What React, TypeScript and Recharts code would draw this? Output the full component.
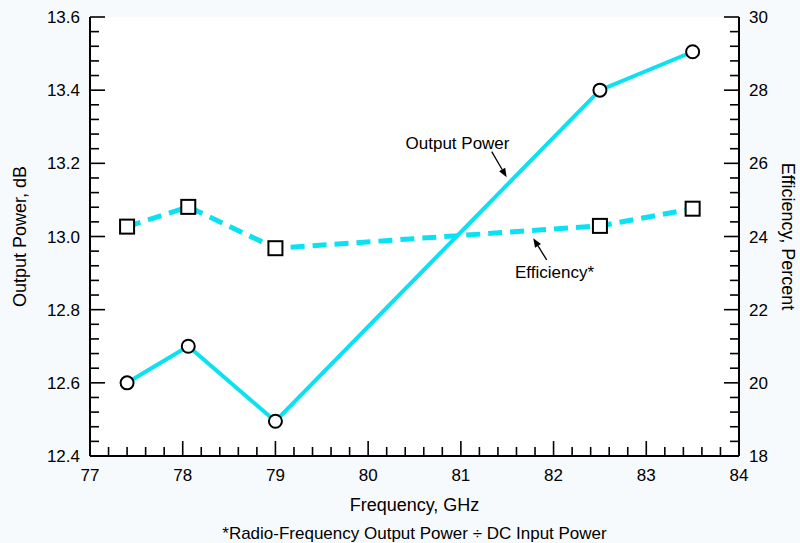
import React from 'react';
import {
  LineChart,
  Line,
  XAxis,
  YAxis,
  CartesianGrid,
  Label,
  ReferenceLine,
  ReferenceDot,
} from 'recharts';

// ---- Data ----
const frequencies = [77.4, 78.06, 79.0, 82.5, 83.5];
const outputPower = [12.6, 12.7, 12.495, 13.4, 13.505];
const efficiency = [24.27, 24.81, 23.68, 24.29, 24.76];

const xMajorTicks = [77, 78, 79, 80, 81, 82, 83, 84];
const powerMajorTicks = [12.4, 12.6, 12.8, 13.0, 13.2, 13.4, 13.6];
const effMajorTicks = [18, 20, 22, 24, 26, 28, 30];

const xMinorStep = 0.2;
const powerMinorStep = 0.04;
const effMinorStep = 0.4;

const buildTicks = (major: number[], step: number) => {
  const out: number[] = [];
  const start = major[0];
  const end = major[major.length - 1];
  const n = Math.round((end - start) / step);
  for (let i = 0; i <= n; i++) out.push(Number((start + i * step).toFixed(4)));
  return out;
};

const xTicks = buildTicks(xMajorTicks, xMinorStep);
const powerTicks = buildTicks(powerMajorTicks, powerMinorStep);
const effTicks = buildTicks(effMajorTicks, effMinorStep);

const data = frequencies.map((f, i) => ({
  freq: f,
  power: outputPower[i],
  eff: efficiency[i],
}));

const annotations = {
  powerText: { x: 80.964, y: 13.256, text: 'Output Power' },
  powerArrow: [
    { x: 81.333, y: 13.232 },
    { x: 81.494, y: 13.162 },
  ],
  effText: { x: 82.01, y: 12.903, text: 'Efficiency*' },
  effArrow: [
    { x: 81.926, y: 12.936 },
    { x: 81.781, y: 12.995 },
  ],
};

const FONT = '"Liberation Sans", Arial, Helvetica, sans-serif';
const CYAN = '#0AE2F4';
const MAJOR = 15;
const MINOR = 9;

const isMajor = (v: number, majors: number[]) =>
  majors.some((m) => Math.abs(m - v) < 1e-6);

const fmtX = (v: number) => String(Math.round(v));
const fmtPower = (v: number) => v.toFixed(1);
const fmtEff = (v: number) => String(Math.round(v));

const BottomTick = (props: any) => {
  const { x, y, payload } = props;
  const v = payload.value;
  const maj = isMajor(v, xMajorTicks);
  return (
    <g>
      <line x1={x} y1={y} x2={x} y2={y - (maj ? MAJOR : MINOR)} stroke="#000" strokeWidth={1.6} />
      {maj && (
        <text x={x} y={y + 24.6} textAnchor="middle" fontSize={17} fontFamily={FONT} fill="#000">
          {fmtX(v)}
        </text>
      )}
    </g>
  );
};

const TopTick = (props: any) => {
  const { x, y, payload } = props;
  const maj = isMajor(payload.value, xMajorTicks);
  return <line x1={x} y1={y} x2={x} y2={y + (maj ? MAJOR : MINOR)} stroke="#000" strokeWidth={1.6} />;
};

const LeftTick = (props: any) => {
  const { x, y, payload } = props;
  const v = payload.value;
  const maj = isMajor(v, powerMajorTicks);
  return (
    <g>
      <line x1={x} y1={y} x2={x + (maj ? MAJOR : MINOR)} y2={y} stroke="#000" strokeWidth={1.6} />
      {maj && (
        <text x={x - 10} y={y} dy="0.36em" textAnchor="end" fontSize={17} fontFamily={FONT} fill="#000">
          {fmtPower(v)}
        </text>
      )}
    </g>
  );
};

const RightTick = (props: any) => {
  const { x, y, payload } = props;
  const v = payload.value;
  const maj = isMajor(v, effMajorTicks);
  return (
    <g>
      <line x1={x} y1={y} x2={x - (maj ? MAJOR : MINOR)} y2={y} stroke="#000" strokeWidth={1.6} />
      {maj && (
        <text x={x + 10} y={y} dy="0.36em" textAnchor="start" fontSize={17} fontFamily={FONT} fill="#000">
          {fmtEff(v)}
        </text>
      )}
    </g>
  );
};

const SquareDot = (props: any) => {
  const { cx, cy, index } = props;
  if (cx == null || cy == null) return <g key={`sq-${index}`} />;
  return (
    <rect
      key={`sq-${index}`}
      x={cx - 7}
      y={cy - 7}
      width={14}
      height={14}
      fill="#fff"
      stroke="#000"
      strokeWidth={2}
    />
  );
};

const Arrow = (props: any) => {
  const { x1, y1, x2, y2 } = props;
  const dx = x2 - x1;
  const dy = y2 - y1;
  const len = Math.sqrt(dx * dx + dy * dy) || 1;
  const ux = dx / len;
  const uy = dy / len;
  const hl = 9;
  const hw = 3.5;
  const bx = x2 - ux * hl;
  const by = y2 - uy * hl;
  const px = -uy;
  const py = ux;
  return (
    <g>
      <line x1={x1} y1={y1} x2={bx} y2={by} stroke="#000" strokeWidth={1.3} />
      <polygon
        points={`${x2},${y2} ${bx + px * hw},${by + py * hw} ${bx - px * hw},${by - py * hw}`}
        fill="#000"
      />
    </g>
  );
};

const textShape = (text: string) => (props: any) => {
  const { cx, cy } = props;
  return (
    <text x={cx} y={cy} dy="0.36em" textAnchor="middle" fontSize={17} fontFamily={FONT} fill="#000">
      {text}
    </text>
  );
};

export default function App() {
  return (
    <div
      style={{
        position: 'absolute',
        left: 0,
        top: 0,
        width: 800,
        height: 543,
        background: '#F7FAFD',
        overflow: 'hidden',
      }}
    >
      <LineChart
        width={800}
        height={543}
        data={data}
        margin={{ top: 17, right: 0, bottom: 0, left: 0 }}
      >
        <CartesianGrid horizontal={false} vertical={false} fill="#ffffff" />
        <XAxis
          dataKey="freq"
          type="number"
          domain={[77, 84]}
          ticks={xTicks}
          interval={0}
          height={87}
          tickSize={0}
          tickMargin={0}
          tickLine={false}
          tick={<BottomTick />}
          axisLine={{ stroke: '#000', strokeWidth: 2 }}
          allowDataOverflow
        >
          <Label
            content={(p: any) => {
              const vb = p.viewBox || {};
              return (
                <text
                  x={vb.x + vb.width / 2}
                  y={vb.y + 55}
                  textAnchor="middle"
                  fontSize={18}
                  fontFamily={FONT}
                  fill="#000"
                >
                  Frequency, GHz
                </text>
              );
            }}
          />
          <Label
            content={(p: any) => {
              const vb = p.viewBox || {};
              return (
                <text
                  x={vb.x + vb.width / 2}
                  y={vb.y + 83}
                  textAnchor="middle"
                  fontSize={17}
                  fontFamily={FONT}
                  fill="#000"
                >
                  *Radio-Frequency Output Power ÷ DC Input Power
                </text>
              );
            }}
          />
        </XAxis>
        <XAxis
          xAxisId="top"
          orientation="top"
          dataKey="freq"
          type="number"
          domain={[77, 84]}
          ticks={xTicks}
          interval={0}
          height={0}
          tickSize={0}
          tickMargin={0}
          tickLine={false}
          tick={<TopTick />}
          axisLine={{ stroke: '#000', strokeWidth: 2 }}
          allowDataOverflow
        />
        <YAxis
          type="number"
          domain={[12.4, 13.6]}
          ticks={powerTicks}
          interval={0}
          width={90}
          tickSize={0}
          tickMargin={0}
          tickLine={false}
          tick={<LeftTick />}
          axisLine={{ stroke: '#000', strokeWidth: 2 }}
          allowDataOverflow
        >
          <Label
            content={(p: any) => {
              const vb = p.viewBox || {};
              const cx = vb.x + 20;
              const cy = vb.y + vb.height / 2;
              return (
                <text
                  x={cx}
                  y={cy}
                  dy="0.36em"
                  transform={`rotate(-90, ${cx}, ${cy})`}
                  textAnchor="middle"
                  fontSize={18}
                  fontFamily={FONT}
                  fill="#000"
                >
                  Output Power, dB
                </text>
              );
            }}
          />
        </YAxis>
        <YAxis
          yAxisId="right"
          orientation="right"
          type="number"
          domain={[18, 30]}
          ticks={effTicks}
          interval={0}
          width={61}
          tickSize={0}
          tickMargin={0}
          tickLine={false}
          tick={<RightTick />}
          axisLine={{ stroke: '#000', strokeWidth: 2 }}
          allowDataOverflow
        >
          <Label
            content={(p: any) => {
              const vb = p.viewBox || {};
              const cx = vb.x + 49;
              const cy = vb.y + vb.height / 2;
              return (
                <text
                  x={cx}
                  y={cy}
                  dy="0.36em"
                  transform={`rotate(90, ${cx}, ${cy})`}
                  textAnchor="middle"
                  fontSize={18}
                  fontFamily={FONT}
                  fill="#000"
                >
                  Efficiency, Percent
                </text>
              );
            }}
          />
        </YAxis>

        <Line
          xAxisId="top"
          yAxisId="right"
          dataKey="eff"
          type="linear"
          stroke={CYAN}
          strokeWidth={5}
          strokeDasharray="14 8"
          dot={SquareDot}
          activeDot={false}
          isAnimationActive={false}
        />
        <Line
          dataKey="power"
          type="linear"
          stroke={CYAN}
          strokeWidth={4}
          dot={{ r: 6.5, stroke: '#000', strokeWidth: 2, fill: '#fff' }}
          activeDot={false}
          isAnimationActive={false}
        />

        <ReferenceLine
          segment={[annotations.powerArrow[0], annotations.powerArrow[1]]}
          shape={Arrow}
        />
        <ReferenceLine
          segment={[annotations.effArrow[0], annotations.effArrow[1]]}
          shape={Arrow}
        />
        <ReferenceDot
          x={annotations.powerText.x}
          y={annotations.powerText.y}
          r={1}
          shape={textShape(annotations.powerText.text)}
        />
        <ReferenceDot
          x={annotations.effText.x}
          y={annotations.effText.y}
          r={1}
          shape={textShape(annotations.effText.text)}
        />
      </LineChart>
    </div>
  );
}
